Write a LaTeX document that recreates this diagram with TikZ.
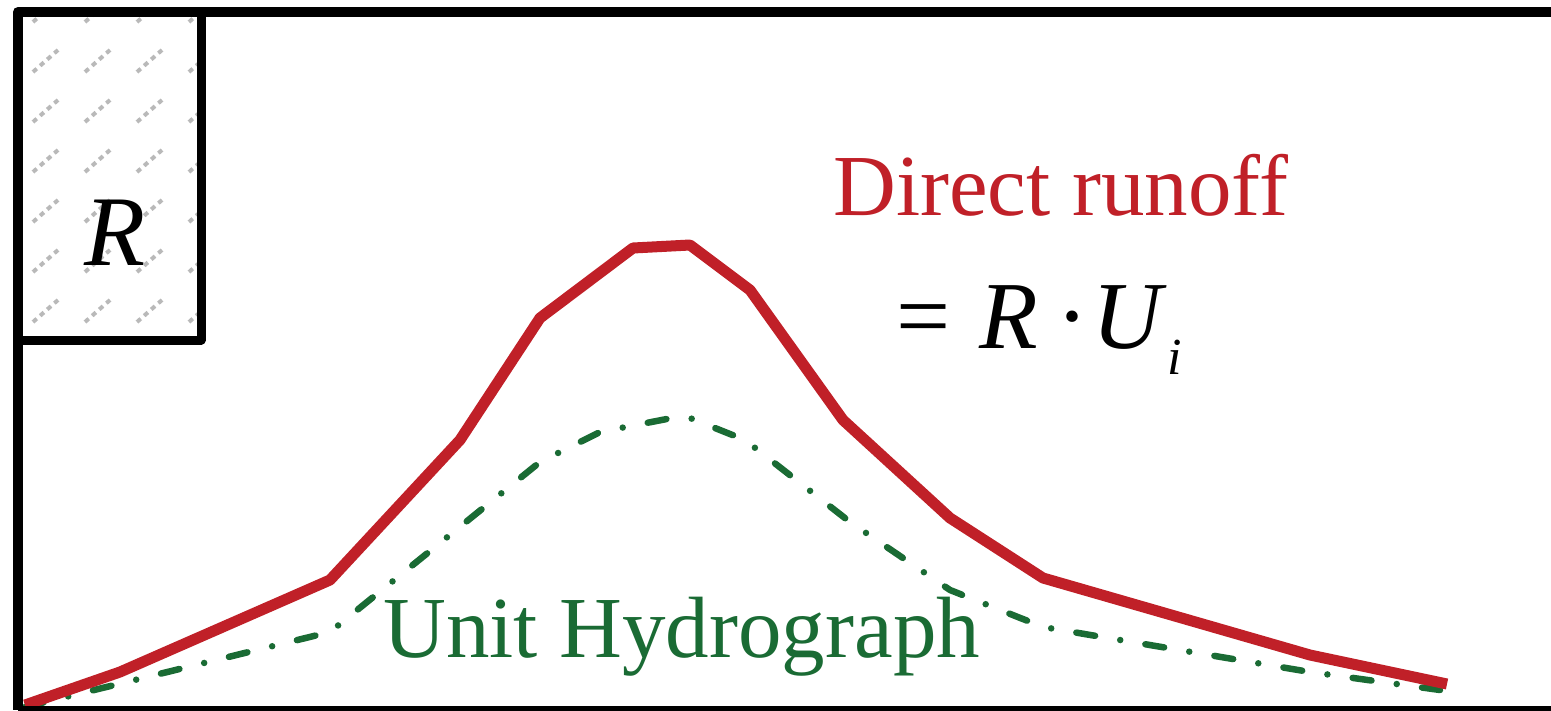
\documentclass[tikz,border=0pt]{standalone}
\usepackage{fontspec}
\setmainfont{Liberation Serif}
\definecolor{runoffred}{RGB}{192,32,40}
\definecolor{uhgreen}{RGB}{26,107,52}

\begin{document}
\begin{tikzpicture}[x=1pt,y=-1pt,line join=round,
  frameline/.style={line width=10pt},
  hatchline/.style={line width=4pt,gray!55,dash pattern=on 5pt off 4.5pt},
  runoffline/.style={line width=11pt,runoffred},
  uhline/.style={line width=6.5pt,uhgreen,line cap=round,dash pattern=on 19pt off 25.5pt on 0pt off 25.5pt}]
  \useasboundingbox (0,0) rectangle (1551,710);
  \begin{scope}
    \clip (18,12) rectangle (201,340);
    \foreach \x in {33,85,137,189}
      \foreach \y in {22,72,...,322}
        \draw[hatchline] (\x,\y) -- ++(25,-22);
  \end{scope}
  \draw[uhline] (25,707) -- (330,632) -- (540,462) -- (600,432) -- (672,418)
    -- (690,418) -- (745,440) -- (850,522) -- (950,590) -- (1043,627)
    -- (1310,672) -- (1440,690);
  \draw[runoffline] (25,705) -- (120,672) -- (330,580) -- (460,440) -- (540,318)
    -- (633,248) -- (690,245) -- (750,290) -- (843,420) -- (950,518)
    -- (1043,578) -- (1310,655) -- (1447,684);
  \draw[frameline] (1551,12) -- (18,12) -- (18,710);
  \draw[line width=6pt] (18,709) -- (1551,709);
  \draw[line width=9pt] (18,340) -- (201,340) -- (201,12);
  \node[anchor=base,inner sep=0pt] (rlabel) at (115,265) {\fontsize{100}{100}\selectfont\textit{R}};
  \node[anchor=base west,inner sep=0pt,text=runoffred] (direct) at (833,215) {\fontsize{87}{87}\selectfont Direct runoff};
  \node[anchor=base west,inner sep=0pt] (formula) at (896,348) {\fontsize{96}{96}\selectfont =\hspace{0.3em}\textit{R}\hspace{0.2em}·\hspace{0.04em}\textit{U}\raisebox{-0.28em}{\fontsize{52}{52}\selectfont\textit{i}}};
  \node[anchor=base west,inner sep=0pt,text=uhgreen] (unithydro) at (383,657) {\fontsize{87}{87}\selectfont Unit Hydrograph};
\end{tikzpicture}
\end{document}
